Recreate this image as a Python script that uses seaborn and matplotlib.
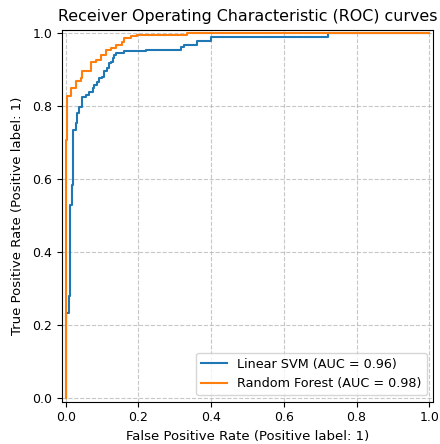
import matplotlib
matplotlib.use("Agg")
import matplotlib.pyplot as plt
import seaborn as sns
import pandas as pd

# ROC step corners (fpr of vertical segment, tpr at its top)
svm_fpr = [0, 0, 0.008, 0.012, 0.017, 0.021, 0.028, 0.032, 0.037, 0.044, 0.055, 0.064,
           0.074, 0.078, 0.087, 0.092, 0.101, 0.106, 0.115, 0.119, 0.124, 0.129, 0.133,
           0.138, 0.161, 0.22, 0.316, 0.326, 0.362, 0.40, 0.72, 1.0]
svm_tpr = [0, 0.233, 0.28, 0.529, 0.584, 0.734, 0.753, 0.780, 0.798, 0.825, 0.830, 0.839,
           0.849, 0.858, 0.867, 0.877, 0.881, 0.895, 0.904, 0.918, 0.922, 0.932, 0.941,
           0.945, 0.950, 0.954, 0.962, 0.967, 0.978, 0.99, 1.0, 1.0]
rf_fpr = [0, 0, 0.005, 0.014, 0.028, 0.041, 0.046, 0.069, 0.083, 0.096, 0.110, 0.124,
          0.138, 0.156, 0.161, 0.179, 0.197, 0.333, 1.0]
rf_tpr = [0, 0.707, 0.827, 0.849, 0.868, 0.877, 0.897, 0.922, 0.927, 0.940, 0.954, 0.959,
          0.968, 0.977, 0.986, 0.991, 0.995, 1.0, 1.0]
labels = ["Linear SVM (AUC = 0.96)", "Random Forest (AUC = 0.98)"]
ticks = [0.0, 0.2, 0.4, 0.6, 0.8, 1.0]

fig = plt.figure(figsize=(4.4, 4.44), dpi=100)
ax = fig.add_axes([0.141, 0.0955, 0.843, 0.838])

for fx, ty, lab, col in [(svm_fpr, svm_tpr, labels[0], "#1f77b4"),
                         (rf_fpr, rf_tpr, labels[1], "#ff7f0e")]:
    df = pd.DataFrame({"fpr": fx, "tpr": ty})
    sns.lineplot(data=df, x="fpr", y="tpr", estimator=None, sort=False,
                 drawstyle="steps-post", color=col, label=lab, lw=1.5, ax=ax)

ax.set_xlim(-0.01, 1.01)
ax.set_ylim(-0.01, 1.01)
ax.set_xticks(ticks)
ax.set_yticks(ticks)
ax.tick_params(labelsize=9)
ax.grid(True, linestyle="--", color="#b0b0b0", alpha=0.7)
ax.set_xlabel("False Positive Rate (Positive label: 1)", fontsize=9.5)
ax.set_ylabel("True Positive Rate (Positive label: 1)", fontsize=9.5, labelpad=6)
ax.set_title("Receiver Operating Characteristic (ROC) curves", fontsize=11.4)
ax.legend(loc="lower right", fontsize=9.2)
fig.savefig("out.png", dpi=100)
